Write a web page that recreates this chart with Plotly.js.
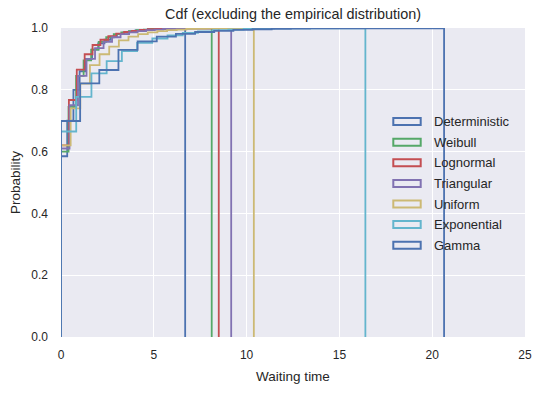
<!DOCTYPE html>
<html>
<head>
<meta charset="utf-8">
<script src="https://cdn.plot.ly/plotly-3.0.1.min.js"></script>
<style>html,body{margin:0;padding:0;background:#fff;} #chart{width:542px;height:393px;}</style>
</head>
<body>
<div id="chart"></div>
<script>
// Series names (legend order)
const seriesNames = ["Deterministic", "Weibull", "Lognormal", "Triangular", "Uniform", "Exponential", "Gamma"];
// Data range [min, max] of each series' waiting times (bins span this range)
const deterministicRange = [0, 6.69];
const weibullRange = [0, 8.12];
const lognormalRange = [0, 8.50];
const triangularRange = [0, 9.17];
const uniformRange = [0, 10.39];
const exponentialRange = [0, 16.40];
const gammaRange = [0, 20.64];
// Cumulative probability at each of 20 bins
const deterministicCdf = [0.585, 0.70, 0.80, 0.86, 0.90, 0.93, 0.95, 0.962, 0.972, 0.98, 0.985, 0.989, 0.992, 0.994, 0.996, 0.997, 0.998, 0.999, 0.9995, 1.0];
const weibullCdf = [0.60, 0.745, 0.845, 0.895, 0.93, 0.955, 0.97, 0.98, 0.986, 0.99, 0.993, 0.995, 0.997, 0.998, 0.9985, 0.999, 0.9993, 0.9996, 0.9998, 1.0];
const lognormalCdf = [0.62, 0.767, 0.865, 0.915, 0.945, 0.962, 0.974, 0.982, 0.987, 0.991, 0.994, 0.996, 0.997, 0.998, 0.9986, 0.999, 0.9994, 0.9997, 0.9999, 1.0];
const triangularCdf = [0.61, 0.75, 0.845, 0.90, 0.935, 0.955, 0.97, 0.98, 0.986, 0.99, 0.993, 0.995, 0.997, 0.998, 0.9988, 0.9993, 0.9996, 0.9998, 0.9999, 1.0];
const uniformCdf = [0.62, 0.74, 0.82, 0.88, 0.915, 0.94, 0.96, 0.972, 0.98, 0.986, 0.99, 0.993, 0.995, 0.997, 0.998, 0.9988, 0.9993, 0.9996, 0.9998, 1.0];
const exponentialCdf = [0.665, 0.777, 0.853, 0.893, 0.925, 0.952, 0.966, 0.976, 0.984, 0.989, 0.993, 0.995, 0.997, 0.998, 0.9986, 0.999, 0.9994, 0.9997, 0.9999, 1.0];
const gammaCdf = [0.699, 0.821, 0.864, 0.929, 0.957, 0.972, 0.981, 0.987, 0.991, 0.994, 0.996, 0.997, 0.998, 0.9986, 0.999, 0.9993, 0.9996, 0.9998, 0.9999, 1.0];
// Tick labels
const xTickVals = [0, 5, 10, 15, 20, 25];
const yTickVals = [0, 0.2, 0.4, 0.6, 0.8, 1.0];
const yTickText = ["0.0", "0.2", "0.4", "0.6", "0.8", "1.0"];

const colors = ["#4C72B0", "#55A868", "#C44E52", "#8172B2", "#CCB974", "#64B5CD", "#4C72B0"];
const ranges = [deterministicRange, weibullRange, lognormalRange, triangularRange, uniformRange, exponentialRange, gammaRange];
const cdfs = [deterministicCdf, weibullCdf, lognormalCdf, triangularCdf, uniformCdf, exponentialCdf, gammaCdf];

// Build matplotlib-style 'step' histogram outline (cumulative)
function stepPath(range, cdf) {
  const n = cdf.length;
  const w = (range[1] - range[0]) / n;
  const xs = [range[0]], ys = [0];
  for (let i = 0; i < n; i++) {
    const a = range[0] + i * w, b = range[0] + (i + 1) * w;
    xs.push(a, b); ys.push(cdf[i], cdf[i]);
  }
  xs.push(range[1]); ys.push(0);
  return {xs, ys};
}

const traces = seriesNames.map((name, i) => {
  const p = stepPath(ranges[i], cdfs[i]);
  return {
    type: "scatter", mode: "lines", name: name,
    x: p.xs, y: p.ys,
    line: {color: colors[i], width: 1.8, shape: "linear"},
    showlegend: false, hoverinfo: "skip"
  };
});

// Custom legend (outlined patches like matplotlib)
const L = 61, R = 525, T = 28, B = 337;
const W = R - L, H = B - T;
const px2x = px => (px - L) / W;
const px2y = py => (B - py) / H;
const legendY0 = 121.6, legendStep = 20.6;
const shapes = [], annotations = [];
seriesNames.forEach((name, i) => {
  const cy = legendY0 + i * legendStep;
  shapes.push({
    type: "rect", xref: "paper", yref: "paper",
    x0: px2x(393.3), x1: px2x(420.7), y0: px2y(cy + 3.5), y1: px2y(cy - 3.5),
    line: {color: colors[i], width: 2}, fillcolor: "rgba(0,0,0,0)", layer: "above"
  });
  annotations.push({
    xref: "paper", yref: "paper", x: px2x(431.5), y: px2y(cy),
    xanchor: "left", yanchor: "middle", showarrow: false, text: name,
    font: {family: "Liberation Sans, Arial, sans-serif", size: 13, color: "#262626"}
  });
});

const layout = {
  width: 542, height: 393,
  margin: {l: L, r: 542 - R, t: T, b: 393 - B, pad: 0},
  paper_bgcolor: "#FFFFFF", plot_bgcolor: "#EAEAF2",
  font: {family: "Liberation Sans, Arial, sans-serif", size: 12, color: "#262626"},
  title: {text: "Cdf (excluding the empirical distribution)", x: 0.5 * (L + R) / 542, xanchor: "center", y: 1 - 14 / 393, yanchor: "middle",
          font: {size: 14.4, color: "#262626"}},
  xaxis: {
    range: [0, 25], tickvals: xTickVals, ticktext: xTickVals.map(String),
    showgrid: true, gridcolor: "#FFFFFF", gridwidth: 1, zeroline: false, showline: false,
    ticks: "", ticklen: 0, ticklabelstandoff: 9, tickfont: {size: 12, color: "#262626"},
    title: {text: "Waiting time", font: {size: 13.5, color: "#262626"}, standoff: 10}
  },
  yaxis: {
    range: [0, 1], tickvals: yTickVals, ticktext: yTickText,
    showgrid: true, gridcolor: "#FFFFFF", gridwidth: 1, zeroline: false, showline: false,
    ticks: "", ticklen: 0, ticklabelstandoff: 12, tickfont: {size: 12, color: "#262626"},
    title: {text: "Probability", font: {size: 13.5, color: "#262626"}, standoff: 7}
  },
  shapes: shapes, annotations: annotations, showlegend: false
};

Plotly.newPlot("chart", traces, layout, {displayModeBar: false, staticPlot: true});
</script>
</body>
</html>
